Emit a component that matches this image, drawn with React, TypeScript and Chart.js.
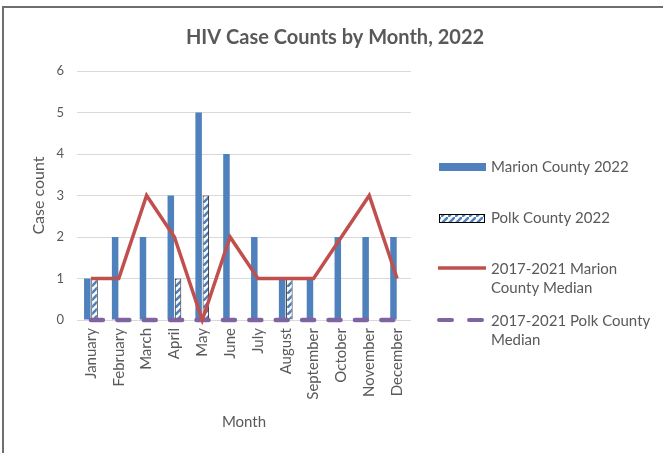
import React, { useEffect, useRef } from 'react';
import { Chart, registerables } from 'chart.js';

Chart.register(...registerables);

const months = ['January', 'February', 'March', 'April', 'May', 'June', 'July', 'August', 'September', 'October', 'November', 'December'];
const marion2022 = [1, 2, 2, 3, 5, 4, 2, 1, 1, 2, 2, 2];
const polk2022 = [1, 0, 0, 1, 3, 0, 0, 1, 0, 0, 0, 0];
const marionMedian = [1, 1, 3, 2, 0, 2, 1, 1, 1, 2, 3, 1];
const polkMedian = [0, 0, 0, 0, 0, 0, 0, 0, 0, 0, 0, 0];
const yTicks = [0, 1, 2, 3, 4, 5, 6];

const FONT = 'Lato, "Open Sans", sans-serif';
const TEXT = '#595959';
const BLUE = '#4f81bd';
const RED = '#c0504d';
const PURPLE = '#8064a2';

function makeHatch(): CanvasPattern | string {
  const n = 7;
  const c = document.createElement('canvas');
  c.width = n;
  c.height = n;
  const g = c.getContext('2d');
  if (!g) return '#ffffff';
  g.fillStyle = '#ffffff';
  g.fillRect(0, 0, n, n);
  g.strokeStyle = BLUE;
  g.lineWidth = 2.6;
  g.beginPath();
  g.moveTo(-1, n + 1); g.lineTo(n + 1, -1);
  g.moveTo(-n - 1, 1); g.lineTo(1, -n - 1);
  g.moveTo(n - 1, 2 * n + 1); g.lineTo(2 * n + 1, n - 1);
  g.stroke();
  const p = g.createPattern(c, 'repeat');
  return p || '#ffffff';
}

export default function App() {
  const ref = useRef<HTMLCanvasElement | null>(null);

  useEffect(() => {
    if (!ref.current) return;
    const hatch = makeHatch();

    const textPlugin = {
      id: 'customText',
      afterDraw(chart: any) {
        const ctx = chart.ctx as CanvasRenderingContext2D;
        ctx.save();
        // title
        ctx.font = `bold 20px ${FONT}`;
        ctx.fillStyle = TEXT;
        ctx.textBaseline = 'middle';
        ctx.textAlign = 'center';
        ctx.fillText('HIV Case Counts by Month, 2022', 335, 38);

        ctx.font = `15px ${FONT}`;
        ctx.textAlign = 'left';
        const tx = 491;
        // Marion County 2022
        ctx.fillStyle = BLUE;
        ctx.fillRect(439, 163, 47, 8);
        ctx.fillStyle = TEXT;
        ctx.fillText('Marion County 2022', tx, 167);
        // Polk County 2022
        ctx.fillStyle = hatch as any;
        ctx.fillRect(439, 214, 46, 8);
        ctx.strokeStyle = '#000000';
        ctx.lineWidth = 1;
        ctx.strokeRect(439.5, 214.5, 45, 8);
        ctx.fillStyle = TEXT;
        ctx.fillText('Polk County 2022', tx, 218);
        // Marion median
        ctx.strokeStyle = RED;
        ctx.lineWidth = 3.5;
        ctx.beginPath();
        ctx.moveTo(438, 268);
        ctx.lineTo(486, 268);
        ctx.stroke();
        ctx.fillText('2017-2021 Marion', tx, 269);
        ctx.fillText('County Median', tx, 288);
        // Polk median
        ctx.strokeStyle = PURPLE;
        ctx.lineWidth = 4;
        ctx.lineCap = 'round';
        ctx.beginPath();
        ctx.moveTo(439, 320);
        ctx.lineTo(452, 320);
        ctx.moveTo(469, 320);
        ctx.lineTo(482, 320);
        ctx.stroke();
        ctx.fillText('2017-2021 Polk County', tx, 321);
        ctx.fillText('Median', tx, 340);
        ctx.restore();
      },
    };

    const chart = new Chart(ref.current, {
      type: 'bar',
      data: {
        labels: months,
        datasets: [
          {
            type: 'bar',
            label: 'Marion County 2022',
            data: marion2022,
            backgroundColor: BLUE,
            borderWidth: 0,
            order: 2,
            barPercentage: 0.9,
            categoryPercentage: 0.52,
          },
          {
            type: 'bar',
            label: 'Polk County 2022',
            data: polk2022,
            backgroundColor: hatch as any,
            borderColor: '#222222',
            borderWidth: 1,
            order: 3,
            barPercentage: 0.9,
            categoryPercentage: 0.52,
          },
          {
            type: 'line',
            label: '2017-2021 Marion County Median',
            data: marionMedian,
            borderColor: RED,
            borderWidth: 3.5,
            pointRadius: 0,
            tension: 0,
            order: 0,
            clip: false,
          },
          {
            type: 'line',
            label: '2017-2021 Polk County Median',
            data: polkMedian,
            borderColor: PURPLE,
            borderWidth: 4.5,
            borderDash: [12, 14.4],
            borderCapStyle: 'round',
            pointRadius: 0,
            tension: 0,
            order: 1,
            clip: false,
          },
        ] as any,
      },
      options: {
        animation: false,
        responsive: true,
        maintainAspectRatio: false,
        layout: { padding: { left: 0, right: 252, top: 71, bottom: 0 } },
        plugins: {
          legend: { display: false },
          tooltip: { enabled: false },
          title: { display: false },
        },
        scales: {
          x: {
            grid: { display: false, drawTicks: false },
            border: { display: false },
            ticks: {
              autoSkip: false,
              minRotation: 90,
              maxRotation: 90,
              color: TEXT,
              font: { family: FONT, size: 15 },
              padding: 8,
            },
            title: {
              display: true,
              text: 'Month',
              color: TEXT,
              font: { family: FONT, size: 15 },
              padding: { top: 0, bottom: 22 },
            },
            afterFit: (s: any) => { s.height = 133; },
          },
          y: {
            min: 0,
            max: 6,
            afterBuildTicks: (s: any) => { s.ticks = yTicks.map((v) => ({ value: v })); },
            grid: { color: '#d9d9d9', lineWidth: 1, drawTicks: false },
            border: { display: false },
            ticks: {
              color: TEXT,
              font: { family: FONT, size: 13 },
              padding: 13,
            },
            title: {
              display: true,
              text: 'Case count',
              color: TEXT,
              font: { family: FONT, size: 16 },
              padding: { top: 29, bottom: 0 },
            },
            afterFit: (s: any) => { s.width = 77; },
          },
        },
      } as any,
      plugins: [textPlugin],
    });

    return () => chart.destroy();
  }, []);

  return (
    <div style={{ position: 'absolute', left: 0, top: 0, width: 663, height: 453, overflow: 'hidden', background: '#ffffff' }}>
      <div
        style={{
          position: 'absolute',
          left: 2,
          top: 6,
          width: 700,
          height: 500,
          borderTop: '2px solid #6e6e6e',
          borderLeft: '2px solid #6e6e6e',
        }}
      />
      <div style={{ position: 'absolute', left: 0, top: 0, width: 663, height: 453 }}>
        <canvas ref={ref} />
      </div>
    </div>
  );
}
